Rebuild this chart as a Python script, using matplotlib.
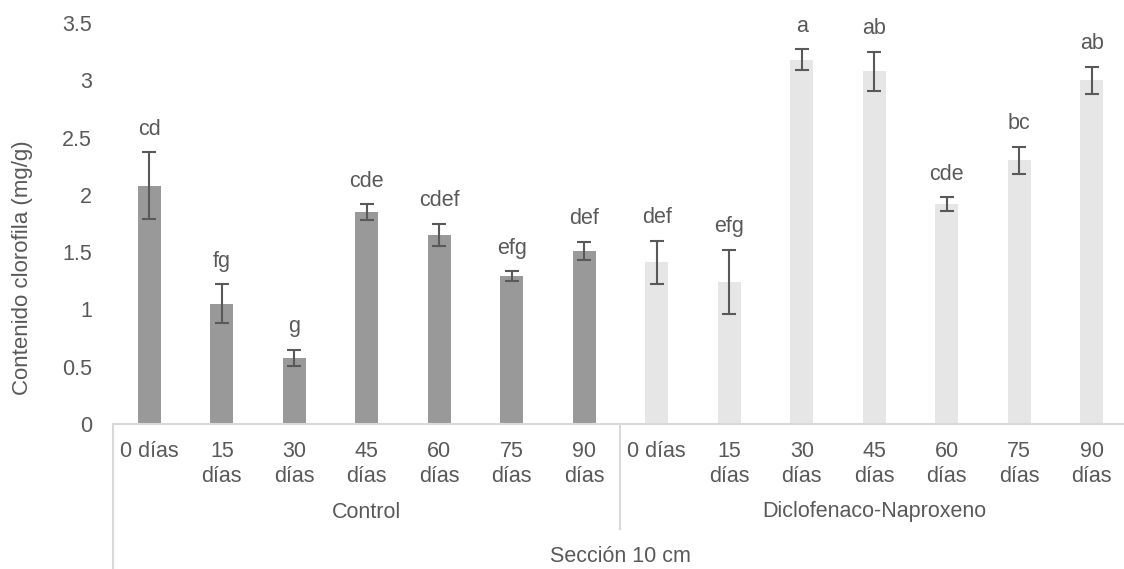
import numpy as np
import matplotlib
matplotlib.use("Agg")
import matplotlib.pyplot as plt

plt.rcParams['font.family'] = ['Liberation Sans', 'DejaVu Sans']

days = ["0 días", "15\ndías", "30\ndías", "45\ndías", "60\ndías", "75\ndías", "90\ndías"]
groups = ["Control", "Diclofenaco-Naproxeno"]
section = "Sección 10 cm"

control = [2.08, 1.05, 0.58, 1.85, 1.65, 1.29, 1.51]
control_err = [0.29, 0.17, 0.07, 0.07, 0.10, 0.045, 0.08]
control_sig = ["cd", "fg", "g", "cde", "cdef", "efg", "def"]

dn = [1.41, 1.24, 3.18, 3.08, 1.92, 2.30, 3.00]
dn_err = [0.19, 0.28, 0.09, 0.17, 0.06, 0.12, 0.12]
dn_sig = ["def", "efg", "a", "ab", "cde", "bc", "ab"]

txt = "#595959"
axcol = "#d9d9d9"
fs = 15.5

fig = plt.figure(figsize=(11.24, 5.69), dpi=100)
ax = fig.add_axes([113/1124, 145/569, 1015/1124, 401/569])

vals = control + dn
errs = control_err + dn_err
sigs = control_sig + dn_sig
cols = ["#999999"] * len(control) + ["#e6e6e6"] * len(dn)
x = np.arange(len(vals))

ax.bar(x, vals, width=0.32, color=cols, zorder=2)
ax.errorbar(x, vals, yerr=errs, fmt="none", ecolor="#595959", elinewidth=1.5,
            capsize=5, capthick=1.5, zorder=3)
for xi, v, e, s in zip(x, vals, errs, sigs):
    ax.annotate(s, (xi, v + e), xytext=(0, 9), textcoords="offset points",
                ha="center", va="bottom", color=txt, fontsize=fs)

ax.set_xlim(-0.5, len(vals) - 0.5)
ax.set_ylim(0, 3.5)
ax.set_yticks(np.arange(0, 3.51, 0.5))
ax.set_yticklabels(["0", "0.5", "1", "1.5", "2", "2.5", "3", "3.5"])
ax.tick_params(axis="y", length=0, pad=15, labelsize=fs, labelcolor=txt)
ax.set_xticks(x)
ax.set_xticklabels(days * 2, linespacing=1.3)
ax.tick_params(axis="x", length=0, pad=12, labelsize=fs, labelcolor=txt)
for sp in ["top", "right", "left"]:
    ax.spines[sp].set_visible(False)
ax.spines["bottom"].set_color(axcol)
ax.spines["bottom"].set_linewidth(1.5)

ax.set_ylabel("Contenido clorofila (mg/g)", color=txt, fontsize=16)
ax.yaxis.set_label_coords(-80/1015, 156/401)

# multi-level category axis
trans = ax.get_xaxis_transform()
n = len(control)
ax.plot([-0.5, -0.5], [0, -145/401], transform=trans, color=axcol, lw=1.5, clip_on=False)
ax.plot([n - 0.5, n - 0.5], [0, -105/401], transform=trans, color=axcol, lw=1.5, clip_on=False)
ax.plot([2 * n - 0.5, 2 * n - 0.5], [0, -145/401], transform=trans, color=axcol, lw=1.5, clip_on=False)
for gi, g in enumerate(groups):
    ax.text(gi * n + (n - 1) / 2, -88/401, g, transform=trans, ha="center", va="center",
            color=txt, fontsize=fs)
ax.text(n - 0.5, -132/401, section, transform=trans, ha="center", va="center",
        color=txt, fontsize=fs)

fig.savefig("out.png", dpi=100)
